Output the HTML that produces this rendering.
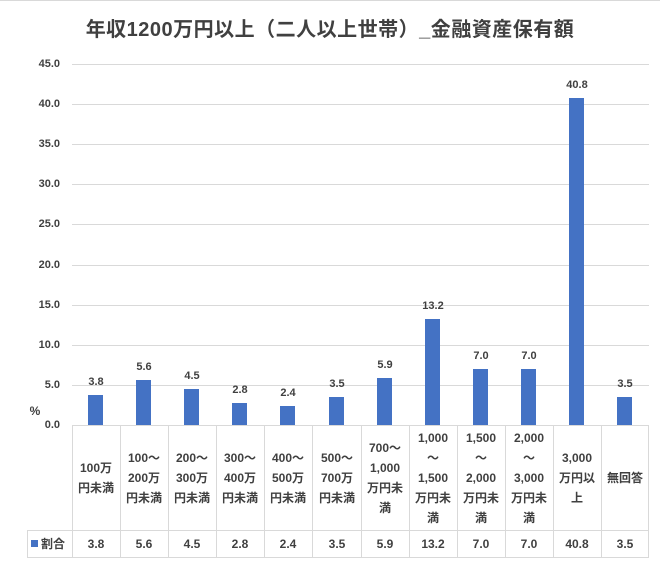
<!DOCTYPE html>
<html><head><meta charset="utf-8"><style>
*{margin:0;padding:0;box-sizing:border-box}
body{width:660px;height:561px;background:#fff;position:relative;overflow:hidden;font-family:"Liberation Sans","Noto Sans CJK JP",sans-serif;color:#404040;font-weight:bold}
.a{position:absolute}
.g{position:absolute;left:72px;width:577px;height:1px;background:#d9d9d9}
.yl{position:absolute;left:20px;width:40px;text-align:right;font-size:11px;line-height:12px}
.bar{position:absolute;width:15px;background:#4472c4}
.vl{position:absolute;width:48px;text-align:center;font-size:11px;line-height:12px}
.vline{position:absolute;width:1px;background:#d9d9d9;top:425px;height:132px}
.cat{position:absolute;top:425px;height:105px;width:48px;display:flex;align-items:center;justify-content:center;text-align:center;font-size:12px;line-height:20px}
.val{position:absolute;top:530px;height:27px;width:48px;display:flex;align-items:center;justify-content:center;font-size:12px}
</style></head><body>
<div class="a" style="left:0;top:0;width:660px;height:1px;background:#d9d9d9"></div>
<div class="a" style="left:0;top:17px;width:660px;text-align:center;font-size:20px;line-height:26px;letter-spacing:0.5px">年収1200万円以上（二人以上世帯）_金融資産保有額</div>
<div class="g" style="top:64px"></div><div class="yl" style="top:58px">45.0</div>
<div class="g" style="top:104px"></div><div class="yl" style="top:98px">40.0</div>
<div class="g" style="top:144px"></div><div class="yl" style="top:138px">35.0</div>
<div class="g" style="top:184px"></div><div class="yl" style="top:178px">30.0</div>
<div class="g" style="top:224px"></div><div class="yl" style="top:218px">25.0</div>
<div class="g" style="top:265px"></div><div class="yl" style="top:259px">20.0</div>
<div class="g" style="top:305px"></div><div class="yl" style="top:299px">15.0</div>
<div class="g" style="top:345px"></div><div class="yl" style="top:339px">10.0</div>
<div class="g" style="top:385px"></div><div class="yl" style="top:379px">5.0</div>
<div class="yl" style="top:405px;left:20px;width:30px;text-align:center;font-size:12px">%</div>
<div class="yl" style="top:419px">0.0</div>
<div class="a" style="left:72px;top:425px;width:577px;height:1px;background:#d9d9d9"></div>
<div class="a" style="left:27px;top:530px;width:622px;height:1px;background:#d9d9d9"></div>
<div class="a" style="left:27px;top:557px;width:622px;height:1px;background:#d9d9d9"></div>
<div class="vline" style="left:27px;top:530px;height:27px"></div>
<div class="vline" style="left:72px"></div><div class="vline" style="left:120px"></div><div class="vline" style="left:168px"></div><div class="vline" style="left:216px"></div><div class="vline" style="left:264px"></div><div class="vline" style="left:312px"></div><div class="vline" style="left:361px"></div><div class="vline" style="left:409px"></div><div class="vline" style="left:457px"></div><div class="vline" style="left:505px"></div><div class="vline" style="left:553px"></div><div class="vline" style="left:601px"></div><div class="vline" style="left:648px"></div>
<div class="a" style="left:31px;top:537px;font-size:12px;line-height:14px"><span style="display:inline-block;width:7px;height:7px;background:#4472c4;margin-right:3px;vertical-align:1px"></span>割合</div>

<div class="bar" style="left:88px;top:394.5px;height:30.5px"></div><div class="vl" style="left:72px;top:376px">3.8</div>
<div class="bar" style="left:136px;top:380px;height:45px"></div><div class="vl" style="left:120px;top:361px">5.6</div>
<div class="bar" style="left:184px;top:389px;height:36px"></div><div class="vl" style="left:168px;top:370px">4.5</div>
<div class="bar" style="left:232px;top:402.5px;height:22.5px"></div><div class="vl" style="left:216px;top:384px">2.8</div>
<div class="bar" style="left:280px;top:405.7px;height:19.3px"></div><div class="vl" style="left:264px;top:387px">2.4</div>
<div class="bar" style="left:329px;top:397px;height:28px"></div><div class="vl" style="left:313px;top:378px">3.5</div>
<div class="bar" style="left:377px;top:377.6px;height:47.4px"></div><div class="vl" style="left:361px;top:359px">5.9</div>
<div class="bar" style="left:425px;top:319px;height:106px"></div><div class="vl" style="left:409px;top:300px">13.2</div>
<div class="bar" style="left:473px;top:369px;height:56px"></div><div class="vl" style="left:457px;top:350px">7.0</div>
<div class="bar" style="left:521px;top:369px;height:56px"></div><div class="vl" style="left:505px;top:350px">7.0</div>
<div class="bar" style="left:569px;top:97.7px;height:327.3px"></div><div class="vl" style="left:553px;top:79px">40.8</div>
<div class="bar" style="left:617px;top:397px;height:28px"></div><div class="vl" style="left:601px;top:378px">3.5</div>

<div class="cat" style="left:72px">100万<br>円未満</div>
<div class="cat" style="left:120px">100～<br>200万<br>円未満</div>
<div class="cat" style="left:168px">200～<br>300万<br>円未満</div>
<div class="cat" style="left:216px">300～<br>400万<br>円未満</div>
<div class="cat" style="left:264px">400～<br>500万<br>円未満</div>
<div class="cat" style="left:313px">500～<br>700万<br>円未満</div>
<div class="cat" style="left:361px">700～<br>1,000<br>万円未<br>満</div>
<div class="cat" style="left:409px">1,000<br>～<br>1,500<br>万円未<br>満</div>
<div class="cat" style="left:457px">1,500<br>～<br>2,000<br>万円未<br>満</div>
<div class="cat" style="left:505px">2,000<br>～<br>3,000<br>万円未<br>満</div>
<div class="cat" style="left:553px">3,000<br>万円以<br>上</div>
<div class="cat" style="left:601px">無回答</div>

<div class="val" style="left:72px">3.8</div><div class="val" style="left:120px">5.6</div><div class="val" style="left:168px">4.5</div><div class="val" style="left:216px">2.8</div><div class="val" style="left:264px">2.4</div><div class="val" style="left:313px">3.5</div><div class="val" style="left:361px">5.9</div><div class="val" style="left:409px">13.2</div><div class="val" style="left:457px">7.0</div><div class="val" style="left:505px">7.0</div><div class="val" style="left:553px">40.8</div><div class="val" style="left:601px">3.5</div>
</body></html>
